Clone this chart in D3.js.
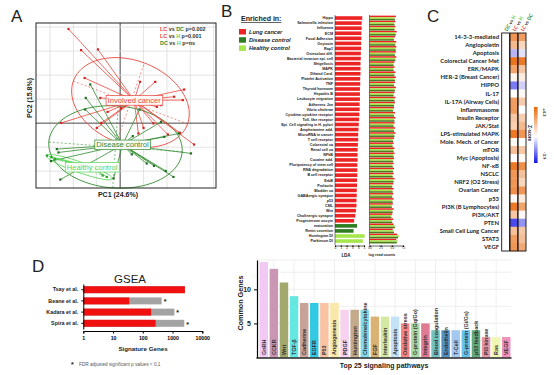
<!DOCTYPE html>
<html lang="en">
<head>
<meta charset="UTF-8">
<title>Pathway analysis figure</title>
<script src="https://d3js.org/d3.v7.min.js"></script>
<style>
  body { margin: 0; background: #fff; }
  svg { font-family: "Liberation Sans", Arial, sans-serif; }
</style>
</head>
<body>
<svg width="554" height="375"></svg>
<script>
// ---------- data: panel A (PCA) ----------
const groupNames = ["Involved cancer", "Disease control", "Healthy control"];
const groupColors = ["#e8453c", "#2f8a2f", "#5ad35a"];
const lcPoints = [[-2.21,3.92],[-1.67,3.04],[-0.95,3.07],[-1.52,1.88],[0.85,1.72],[1.5,1.72],[2.74,1.4],[2.31,1.1],[2.68,0.96],[-0.85,1.05],[1.75,0.75],[1.57,0.68],[-0.54,0.47],[0.04,0.62],[-2.52,0.01],[-1.0,-0.2],[-0.81,0.01],[0.78,-0.43],[1.0,-0.2],[1.42,-0.01],[2.04,-0.47],[2.56,-0.4],[3.16,-0.89]];
const dcPoints = [[-1.28,1.61],[-1.47,1.05],[-1.5,0.57],[0.83,0.57],[1.75,0.05],[0.54,-0.54],[1.89,-0.57],[2.52,-0.43],[3.03,-1.26],[-2.71,-1.08],[-2.64,-1.22],[-2.96,-1.58],[0.5,-1.3],[1.14,-1.68],[1.45,-1.78],[1.95,-1.99],[2.28,-2.24],[-2.56,-2.35],[-0.28,-2.3]];
const hcPoints = [[-3.13,-1.35],[-2.95,-1.42],[-2.78,-1.5],[-0.57,-2.24],[-0.75,-2.18]];
const groupCentres = [[0.6, 0.95], [0.1, -0.9], [-1.2, -1.83]];
// ellipse centre, half axes (PC units) and tilt in degrees
const ellipseCx = [0.44, -0.2, -1.75];
const ellipseCy = [0.86, -0.99, -1.83];
const ellipseRx = [2.6, 2.86, 1.5];
const ellipseRy = [1.75, 1.71, 0.22];
const ellipseAngle = [-20, -4, -19];
const pcaTests = [
  [["LC", 0], [" vs ", -1], ["DC", 1], [" p=0.002", -1]],
  [["LC", 0], [" vs ", -1], ["H", 2], [" p=0.001", -1]],
  [["DC", 1], [" vs ", -1], ["H", 2], [" p=ns", -1]]
];

// ---------- data: panel B (LEfSe) ----------
const bLabels = ["Hippo","Salmonella infection","Influenza","ECM","Focal Adhesion","Oxytocin","Rap1","Osteoclast diff.","Bacterial invasion epi. cell","Shigellosis","MAPK","Dilated Card.","Platelet Activation","TNF","Thyroid hormone","Hepatitis B","Leukocyte migration","Adherens Jxn","Vibrio cholerae","Cytokine-cytokine receptor","Toll- like receptor","Epi. Cell signaling in H. pylori","Amphetamine add.","MicroRNA in cancer","T cell receptor","Colorectal ca","Renal cell ca","NFkB","Cocaine add.","Pluripotency of stem cell","RNA degradation","B cell receptor","ErbB","Prolactin","Bladder ca","GABAergic synapse","p53","CML","Wnt","Cholinergic synapse","Progesterone oocyte","maturation","Renin secretion","Huntington DI","Parkinson DI"];
const bLDA = [4.7,4.6,4.6,4.55,4.55,4.5,4.5,4.45,4.45,4.4,4.4,4.4,4.35,4.35,4.3,4.3,4.3,4.25,4.25,4.2,4.15,4.1,4.05,4.0,4.0,3.95,3.9,3.9,3.9,3.85,3.85,3.85,3.8,3.8,3.75,3.75,3.7,3.7,3.6,3.5,3.3,3.8,3.2,5.1,4.8];
const bEnriched = ["LC","LC","LC","LC","LC","LC","LC","LC","LC","LC","LC","LC","LC","LC","LC","LC","LC","LC","LC","LC","LC","LC","LC","LC","LC","LC","LC","LC","LC","LC","LC","LC","LC","LC","LC","LC","LC","LC","LC","LC","LC","DC","DC","H","H"];
const readLC = [5.9,5.8,5.8,6.1,5.7,6.0,6.0,5.9,6.0,5.6,5.6,5.8,5.9,5.7,5.9,5.6,5.8,5.7,5.5,5.7,5.8,5.6,5.7,5.8,5.5,5.4,5.6,5.6,5.5,5.4,5.5,5.4,5.6,5.3,5.4,5.3,5.4,5.2,5.4,5.1,5.3,5.4,5.2,6.2,6.0];
const readH  = [5.6,5.5,5.6,5.8,5.4,5.7,5.8,5.6,5.7,5.3,5.3,5.5,5.6,5.4,5.6,5.3,5.5,5.4,5.2,5.4,5.5,5.3,5.4,5.5,5.2,5.1,5.3,5.3,5.2,5.1,5.2,5.1,5.3,5.0,5.1,5.0,5.1,4.9,5.1,4.8,5.0,5.6,5.4,6.6,6.3];
const readDC = [5.7,5.6,5.6,5.9,5.5,5.8,5.9,5.7,5.8,5.4,5.4,5.6,5.7,5.5,5.7,5.4,5.6,5.5,5.3,5.5,5.6,5.4,5.5,5.6,5.3,5.2,5.4,5.4,5.3,5.2,5.3,5.2,5.4,5.1,5.2,5.1,5.2,5.0,5.2,4.9,5.1,5.7,5.5,6.4,6.1];
const legendB = ["Lung cancer", "Disease control", "Healthy control"];

// ---------- data: panel C (IPA z-scores) ----------
const cLabels = ["14-3-3-mediated","Angiopoietin","Apoptosis","Colorectal Cancer Met","ERK/MAPK","HER-2 (Breast Cancer)","HIPPO","IL-17","IL-17A (Airway Cells)","Inflammasome","Insulin Receptor","JAK/Stat","LPS-stimulated MAPK","Mole. Mech. of Cancer","mTOR","Myc (Apoptosis)","NF-κB","NSCLC","NRF2 (O2 Stress)","Ovarian Cancer","p53","PI3K (B Lymphocytes)","PI3K/AKT","PTEN","Small Cell Lung Cancer","STAT3","VEGF"];
const zDCvsH  = [0,0,0,0,0,0,0,0,0,0,0,0,0,0,0,0,0,0,0,0,0,0,0,0,0,0,0];
const zLCvsH  = [3.0,2.0,-1.2,4.0,2.6,0.3,-2.2,0,2.8,2.8,1.6,1.4,3.8,0.2,1.8,0,3.8,3.0,3.0,3.2,0.2,3.8,1.6,-3.0,1.8,2.8,3.0];
const zLCvsDC = [2.8,1.2,-0.5,3.8,1.6,0.5,-0.8,0.2,1.5,0,1.4,2.0,3.0,0,1.6,0.2,3.2,1.8,1.2,3.0,0.6,2.6,0.2,-1.8,1.6,1.8,2.4];
const cColumns = [
  [["DC", 1], [" vs ", -1], ["H", 2]],
  [["LC", 0], [" vs ", -1], ["H", 2]],
  [["LC", 0], [" vs ", -1], ["DC", 1]]
];

// ---------- data: panel D (GSEA) ----------
const studies = ["Tsay et al.", "Beane et al.", "Kadara et al.", "Spira et al."];
const overlapGenes = [2600, 35, 190, 270];
const signatureGenes = [2600, 430, 1150, 2480];
const fdrSignificant = [false, true, true, true];

// ---------- data: panel E (common genes) ----------
const pathways = ["GnRH","CCKR","Wnt","TGF-β","Cadherine","EGFR","P53","Angiogenesis","PDGF","Huntington","Chemokine/cytokine","FGF","Interleukin","Apoptosis","Oxidative stress","G-protein (Gq/Go)","Integrin","Blood coagulation","Endothelin","T-Cell","G-protein (Gi/Gs)","p53 feedback","PI3 kinase","Ras","VEGF"];
const commonGenes = [14,13,11,9,8,8,8,8,7,7,7,6,6,6,5,5,5,4,4,4,4,4,3,3,3];
const pathwayColors = ["#f2c9f2","#c996b4","#a3a86c","#66e8e2","#c9a29a","#33c9e2","#f9c2a2","#f9e8aa","#f7d2ef","#c3aa8b","#82d9ea","#d9b274","#d3e9a3","#c3e1f7","#f78484","#aad9a3","#e07a93","#72c1c1","#5492c3","#a3c9f0","#64c4ee","#62aa7b","#e894a3","#f0f7b4","#f092ba"];

const svg = d3.select("svg");
svg.append("rect").attr("width", 554).attr("height", 375).attr("fill", "#fff");

function letter(t, x, y) {
  svg.append("text").attr("x", x).attr("y", y).attr("font-size", 17)
    .attr("fill", "#222").text(t);
}
letter("A", 11, 22);
letter("B", 221, 17);
letter("C", 427, 22);
letter("D", 32, 272);

// ================= Panel A =================
const gA = svg.append("g");
const ax = d3.scaleLinear().domain([-3.6, 4.1]).range([36, 216]);
const ay = d3.scaleLinear().domain([-2.7, 4.17]).range([188, 23]);

gA.selectAll(".gx").data(d3.range(-3, 5)).join("line")
  .attr("x1", d => ax(d)).attr("x2", d => ax(d)).attr("y1", ay.range()[1]).attr("y2", ay.range()[0])
  .attr("stroke", d => d === 0 ? "#333" : "#dcdcdc").attr("stroke-width", d => d === 0 ? 0.9 : 0.8);
gA.selectAll(".gy").data(d3.range(-2, 5)).join("line")
  .attr("y1", d => ay(d)).attr("y2", d => ay(d)).attr("x1", ax.range()[0]).attr("x2", ax.range()[1])
  .attr("stroke", d => d === 0 ? "#333" : "#dcdcdc").attr("stroke-width", d => d === 0 ? 0.9 : 0.8);

const allGroups = [lcPoints, dcPoints, hcPoints];
const ellLine = d3.line().x(d => ax(d[0])).y(d => ay(d[1]));
allGroups.forEach((pts, i) => {
  const a = ellipseAngle[i] * Math.PI / 180;
  const cx = ellipseCx[i], cy = ellipseCy[i], rx = ellipseRx[i], ry = ellipseRy[i];
  const ring = d3.range(0, 2 * Math.PI + 0.01, Math.PI / 60).map(t => [
    cx + rx * Math.cos(t) * Math.cos(a) - ry * Math.sin(t) * Math.sin(a),
    cy + rx * Math.cos(t) * Math.sin(a) + ry * Math.sin(t) * Math.cos(a)
  ]);
  gA.append("path").datum(ring).attr("d", ellLine).attr("fill", "none")
    .attr("stroke", groupColors[i]).attr("stroke-width", 0.9);
  // dashed ellipse axes
  const axesEnds = [
    [[cx - rx * Math.cos(a), cy - rx * Math.sin(a)], [cx + rx * Math.cos(a), cy + rx * Math.sin(a)]],
    [[cx + ry * Math.sin(a), cy - ry * Math.cos(a)], [cx - ry * Math.sin(a), cy + ry * Math.cos(a)]]
  ];
  axesEnds.forEach(e => {
    gA.append("path").datum(e).attr("d", ellLine).attr("stroke", groupColors[i])
      .attr("stroke-width", 0.6).attr("stroke-dasharray", "2,2").attr("fill", "none");
  });
});

allGroups.forEach((pts, i) => {
  const c = groupCentres[i];
  gA.selectAll(null).data(pts).join("line")
    .attr("x1", d => ax(d[0])).attr("y1", d => ay(d[1]))
    .attr("x2", ax(c[0])).attr("y2", ay(c[1]))
    .attr("stroke", groupColors[i]).attr("stroke-width", 0.8);
});
allGroups.forEach((pts, i) => {
  gA.selectAll(null).data(pts).join("rect")
    .attr("x", d => ax(d[0]) - 1.1).attr("y", d => ay(d[1]) - 1.1)
    .attr("width", 2.2).attr("height", 2.2)
    .attr("fill", i === 0 ? "#d62020" : (i === 1 ? "#1e6e1e" : "#2e9e2e"));
});
groupNames.forEach((name, i) => {
  const c = groupCentres[i];
  const t = gA.append("text").attr("x", ax(c[0])).attr("y", ay(c[1]) + 2.6)
    .attr("text-anchor", "middle").attr("font-size", 7.6).attr("fill", groupColors[i]).text(name);
  const bb = t.node().getBBox();
  gA.insert("rect", () => t.node())
    .attr("x", bb.x - 1.5).attr("y", bb.y - 0.3).attr("width", bb.width + 3).attr("height", bb.height + 0.6)
    .attr("fill", "#fff").attr("fill-opacity", 0.9).attr("stroke", groupColors[i]).attr("stroke-width", 0.7);
});
gA.append("rect").attr("x", 36).attr("y", 23).attr("width", 180).attr("height", 165)
  .attr("fill", "none").attr("stroke", "#222").attr("stroke-width", 1);

pcaTests.forEach((parts, r) => {
  const t = gA.append("text").attr("x", 160).attr("y", 31 + r * 6.8)
    .attr("font-size", 5.4).attr("font-weight", "bold");
  parts.forEach(p => t.append("tspan").attr("fill", p[1] < 0 ? "#333" : groupColors[p[1]]).text(p[0]));
});
gA.append("text").attr("x", 118).attr("y", 197).attr("text-anchor", "middle")
  .attr("font-size", 7).attr("font-weight", "bold").attr("fill", "#222").text("PC1 (24.6%)");
gA.append("text").attr("transform", "translate(32,98) rotate(-90)").attr("text-anchor", "middle")
  .attr("font-size", 7).attr("font-weight", "bold").attr("fill", "#222").text("PC2 (15.8%)");

// ================= Panel B =================
const gB = svg.append("g");
const bColor = { LC: "#ec2424", DC: "#2f7d22", H: "#a6e64c" };
gB.append("text").attr("x", 241).attr("y", 21).attr("font-size", 7).attr("font-weight", "bold")
  .attr("text-decoration", "underline").attr("fill", "#222").text("Enriched in:");
legendB.forEach((l, i) => {
  gB.append("rect").attr("x", 239).attr("y", 29 + i * 8.2).attr("width", 7).attr("height", 5.5)
    .attr("fill", [bColor.LC, bColor.DC, bColor.H][i]);
  gB.append("text").attr("x", 249).attr("y", 33.8 + i * 8.2).attr("font-size", 5.6)
    .attr("font-weight", "bold").attr("font-style", "italic").attr("fill", "#222").text(l);
});

const by = d3.scaleBand().domain(bLabels).range([15.5, 243.6]);
const bx = d3.scaleLinear().domain([0, 5]).range([335, 364]);
gB.selectAll(".ldaBar").data(bLabels).join("rect")
  .attr("x", bx(0)).attr("y", d => by(d) + by.bandwidth() / 2 - 1.8)
  .attr("width", (d, i) => bx(bLDA[i]) - bx(0)).attr("height", 3.6)
  .attr("fill", (d, i) => bColor[bEnriched[i]]);
gB.selectAll(".ldaLab").data(bLabels).join("text")
  .attr("x", 333).attr("y", d => by(d) + by.bandwidth() / 2 + 1.3)
  .attr("text-anchor", "end").attr("font-size", 3.7).attr("font-weight", "bold").attr("fill", "#222")
  .text(d => d);
gB.append("g").attr("transform", "translate(0,245.5)")
  .call(d3.axisBottom(bx).ticks(5).tickSize(1.5).tickPadding(0.5).tickFormat(d3.format("d")))
  .call(g => g.selectAll("text").attr("font-size", 2.8).attr("dy", "0.6em"))
  .call(g => g.select(".domain").attr("stroke-width", 0.6));
gB.append("line").attr("x1", bx(0)).attr("x2", bx(0)).attr("y1", 15).attr("y2", 245.5)
  .attr("stroke", "#333").attr("stroke-width", 0.6);
gB.append("text").attr("x", 346).attr("y", 256.5).attr("text-anchor", "middle")
  .attr("font-size", 4.5).attr("font-weight", "bold").attr("fill", "#222").text("LDA");

const rx = d3.scaleLinear().domain([0, 7.5]).range([369.5, 403]);
const readSeries = [[readLC, bColor.LC, -2.4], [readH, bColor.H, -0.8], [readDC, "#4f7a22", 0.8]];
readSeries.forEach(s => {
  gB.selectAll(null).data(bLabels).join("rect")
    .attr("x", rx(0)).attr("y", d => by(d) + by.bandwidth() / 2 + s[2])
    .attr("width", (d, i) => rx(s[0][i]) - rx(0)).attr("height", 1.6).attr("fill", s[1]);
});
gB.append("g").attr("transform", "translate(0,245.5)")
  .call(d3.axisBottom(rx).tickValues([0, 2.5, 5, 7.5]).tickSize(1.5).tickPadding(0.5).tickFormat(d3.format(".1f")))
  .call(g => g.selectAll("text").attr("font-size", 2.6).attr("dy", "0.6em"))
  .call(g => g.select(".domain").attr("stroke-width", 0.6));
gB.append("line").attr("x1", rx(0)).attr("x2", rx(0)).attr("y1", 15).attr("y2", 245.5)
  .attr("stroke", "#333").attr("stroke-width", 0.6);
gB.append("text").attr("x", 382).attr("y", 255.5).attr("text-anchor", "middle")
  .attr("font-size", 3.6).attr("font-weight", "bold").attr("fill", "#222").text("log read counts");

// ================= Panel C =================
const gC = svg.append("g").attr("font-family", "Lato, 'Open Sans', sans-serif");
const cy = d3.scaleBand().domain(cLabels).range([33, 251]);
const cx = d3.scaleBand().domain([0, 1, 2]).range([501.7, 526]);
const zColor = d3.scaleLinear().domain([-3.9, 0, 4.3]).range(["#1414e6", "#ffffff", "#e8680c"]);
[zDCvsH, zLCvsH, zLCvsDC].forEach((col, j) => {
  gC.selectAll(null).data(cLabels).join("rect")
    .attr("x", cx(j)).attr("y", d => cy(d)).attr("width", cx.bandwidth()).attr("height", cy.bandwidth() + 0.3)
    .attr("fill", (d, i) => zColor(col[i]));
});
gC.append("rect").attr("x", 501.7).attr("y", 33).attr("width", 24.3).attr("height", 218)
  .attr("fill", "none").attr("stroke", "#111").attr("stroke-width", 0.9);
[1, 2].forEach(j => {
  gC.append("line").attr("x1", cx(j)).attr("x2", cx(j)).attr("y1", 33).attr("y2", 251)
    .attr("stroke", "#111").attr("stroke-width", 1.4);
});
gC.selectAll(".cLab").data(cLabels).join("text")
  .attr("x", 499).attr("y", d => cy(d) + cy.bandwidth() / 2 + 2)
  .attr("text-anchor", "end").attr("font-size", 5.9).attr("font-weight", "bold").attr("fill", "#222")
  .text(d => d);
cColumns.forEach((parts, j) => {
  const t = gC.append("text")
    .attr("transform", `translate(${cx(j) + cx.bandwidth() / 2 + 1.5},31.5) rotate(-60)`)
    .attr("font-size", 4.8).attr("font-weight", "bold");
  parts.forEach(p => t.append("tspan").attr("fill", p[1] < 0 ? "#333" : groupColors[p[1]]).text(p[0]));
});
const grad = svg.append("defs").append("linearGradient").attr("id", "zgrad")
  .attr("x1", 0).attr("x2", 0).attr("y1", 0).attr("y2", 1);
[4.3, 0, -3.9].forEach(v => grad.append("stop")
  .attr("offset", (4.3 - v) / 8.2).attr("stop-color", zColor(v)));
gC.append("rect").attr("x", 534).attr("y", 107).attr("width", 3.6).attr("height", 56).attr("fill", "url(#zgrad)");
gC.append("text").attr("transform", "translate(543,108) rotate(90)").attr("font-size", 4.3)
  .attr("font-weight", "bold").attr("fill", "#222").text("+4.3");
gC.append("text").attr("transform", "translate(543,152) rotate(90)").attr("font-size", 4.3)
  .attr("font-weight", "bold").attr("fill", "#222").text("-3.9");
gC.append("text").attr("transform", "translate(527.5,125) rotate(90)").attr("font-size", 4.8)
  .attr("font-weight", "bold").attr("fill", "#222").text("Z-score");

// ================= Panel D =================
const gD = svg.append("g");
const dx = d3.scaleLog().domain([1, 10000]).range([83.3, 202.3]);
const dy = d3.scaleBand().domain(studies).range([284, 329]).paddingInner(0.38).paddingOuter(0.2);
gD.append("text").attr("x", 130).attr("y", 283).attr("text-anchor", "middle")
  .attr("font-size", 11.5).attr("fill", "#222").text("GSEA");
gD.selectAll(".grey").data(studies).join("rect")
  .attr("x", dx(1)).attr("y", d => dy(d)).attr("height", dy.bandwidth())
  .attr("width", (d, i) => dx(signatureGenes[i]) - dx(1)).attr("fill", "#a3a3a3");
gD.selectAll(".red").data(studies).join("rect")
  .attr("x", dx(1)).attr("y", d => dy(d)).attr("height", dy.bandwidth())
  .attr("width", (d, i) => dx(overlapGenes[i]) - dx(1)).attr("fill", "#f01010");
gD.selectAll(".star").data(studies.filter((d, i) => fdrSignificant[i])).join("text")
  .attr("x", d => dx(signatureGenes[studies.indexOf(d)]) + 2).attr("y", d => dy(d) + dy.bandwidth() / 2 + 3.3)
  .attr("font-size", 7).attr("font-weight", "bold").attr("fill", "#222").text("*");
gD.append("g").attr("transform", "translate(0,331)")
  .call(d3.axisBottom(dx).tickValues([1, 10, 100, 1000, 10000]).tickSize(2.5).tickFormat(d3.format("d")))
  .call(g => g.selectAll("text").attr("font-size", 5.2).attr("font-weight", "bold").attr("dy", "0.6em"))
  .call(g => g.select(".domain").attr("stroke-width", 1));
gD.append("g").attr("transform", `translate(${dx(1)},0)`)
  .call(d3.axisLeft(dy).tickSize(2).tickSizeOuter(0))
  .call(g => g.selectAll("text").attr("font-size", 5.4).attr("font-weight", "bold").attr("fill", "#222"))
  .call(g => g.select(".domain").attr("stroke-width", 1));
gD.append("text").attr("x", 143).attr("y", 351).attr("text-anchor", "middle")
  .attr("font-size", 6.2).attr("font-weight", "bold").attr("fill", "#222").text("Signature Genes");
gD.append("text").attr("x", 71).attr("y", 367).attr("font-size", 7).attr("font-weight", "bold")
  .attr("fill", "#222").text("*");
gD.append("text").attr("x", 79).attr("y", 366).attr("font-size", 4.7).attr("fill", "#555")
  .text("FDR adjusted significant p values < 0.1");

// ================= Panel E =================
const gE = svg.append("g");
const ex = d3.scaleBand().domain(pathways).range([259, 511]).paddingInner(0.16).paddingOuter(0.05);
const ey = d3.scaleLinear().domain([0, 14.3]).range([357.5, 260]);
gE.selectAll(".hgrid").data([2.5, 5, 7.5, 10, 12.5, 14.3]).join("line")
  .attr("x1", 257).attr("x2", 511).attr("y1", d => ey(d)).attr("y2", d => ey(d))
  .attr("stroke", "#ebebeb").attr("stroke-width", 0.8);
gE.selectAll(".vgrid").data(pathways.filter((d, i) => i % 2 === 1)).join("line")
  .attr("x1", d => ex(d) + ex.bandwidth() / 2).attr("x2", d => ex(d) + ex.bandwidth() / 2)
  .attr("y1", 260).attr("y2", 358).attr("stroke", "#ebebeb").attr("stroke-width", 0.8);
gE.selectAll(".bar").data(pathways).join("rect")
  .attr("x", d => ex(d)).attr("width", ex.bandwidth())
  .attr("y", (d, i) => ey(commonGenes[i])).attr("height", (d, i) => ey(0) - ey(commonGenes[i]))
  .attr("fill", (d, i) => pathwayColors[i]);
gE.selectAll(".barLab").data(pathways).join("text")
  .attr("transform", d => `translate(${ex(d) + ex.bandwidth() / 2 + 2},355) rotate(-90)`)
  .attr("font-size", 5.4).attr("font-weight", 600).attr("fill", "#333").text(d => d);
gE.append("g").attr("transform", "translate(257,0)")
  .call(d3.axisLeft(ey).tickValues([5, 10]).tickSize(3).tickSizeOuter(0))
  .call(g => g.selectAll("text").attr("font-size", 7).attr("font-weight", "bold").attr("fill", "#222"))
  .call(g => g.select(".domain").attr("stroke-width", 1.2));
gE.append("line").attr("x1", 256.4).attr("x2", 511.5).attr("y1", 358).attr("y2", 358)
  .attr("stroke", "#222").attr("stroke-width", 1.3);
gE.append("text").attr("transform", "translate(242.5,303) rotate(-90)").attr("text-anchor", "middle")
  .attr("font-size", 7.2).attr("font-weight", "bold").attr("fill", "#222").text("Common Genes");
gE.append("text").attr("x", 384).attr("y", 367.5).attr("text-anchor", "middle")
  .attr("font-size", 7).attr("font-weight", "bold").attr("fill", "#222").text("Top 25 signaling pathways");
</script>
</body>
</html>
